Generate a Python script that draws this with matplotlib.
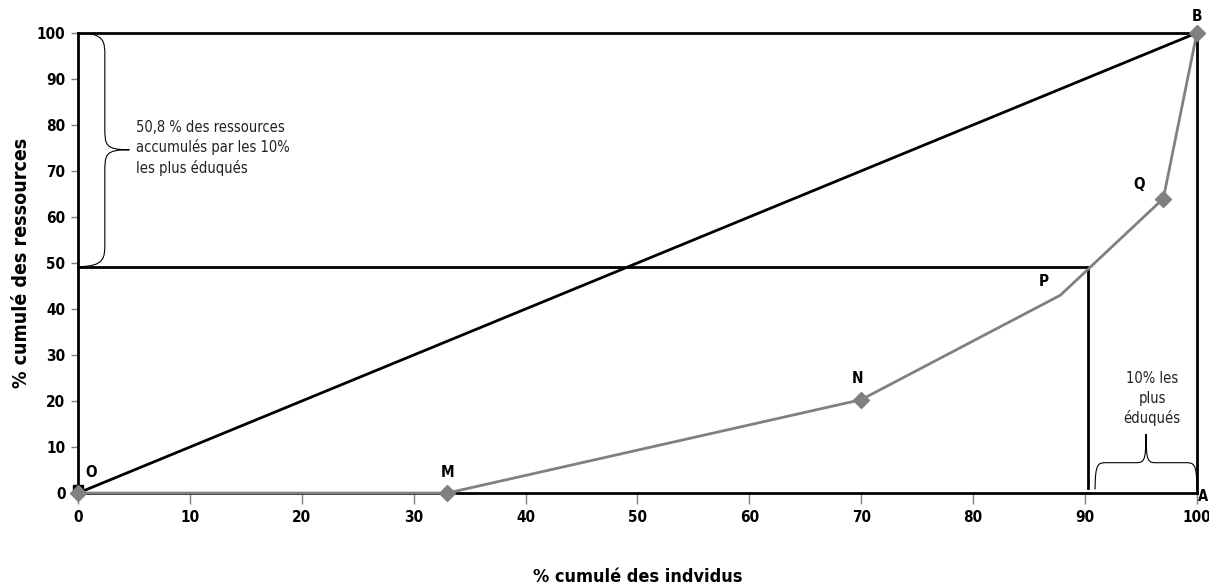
import matplotlib
matplotlib.use("Agg")
import matplotlib.pyplot as plt
from matplotlib.path import Path
from matplotlib.patches import PathPatch

# Data
point_labels = ["O", "M", "N", "P", "Q", "B"]
x_pop = [0, 33, 70, 87.8, 97, 100]
y_res = [0, 0, 20.3, 43.0, 64.0, 100]
marker_mask = [True, True, True, False, True, True]
cut_x = 90.3
cut_y = 49.2
x_ticks = [0, 10, 20, 30, 40, 50, 60, 70, 80, 90, 100]
y_ticks = [0, 10, 20, 30, 40, 50, 60, 70, 80, 90, 100]

plt.rcParams['font.family'] = ['DejaVu Sans']
FONT = dict(family='DejaVu Sans', stretch='condensed')

fig = plt.figure(figsize=(12.09, 5.87), dpi=100)
ax = fig.add_axes([0.0645, 0.160, 0.9255, 0.784])
ax.set_xlim(0, 100)
ax.set_ylim(0, 100)

BLACK = "#000000"
GRAY = "#808080"

# reference square
ax.plot([0, 100], [100, 100], color=BLACK, lw=2, clip_on=False, zorder=2)
ax.plot([100, 100], [0, 100], color=BLACK, lw=2, clip_on=False, zorder=2)
# equality line
ax.plot([0, 100], [0, 100], color=BLACK, lw=2, clip_on=False, zorder=2)
# 10% cut lines
ax.plot([0, cut_x], [cut_y, cut_y], color=BLACK, lw=2, clip_on=False, zorder=2)
ax.plot([cut_x, cut_x], [1.0, cut_y], color=BLACK, lw=2, clip_on=False, zorder=2)

# origin black square
ax.plot([0], [0.6], marker='s', color=BLACK, ms=7, clip_on=False, zorder=3)

# Lorenz curve
ax.plot(x_pop, y_res, color=GRAY, lw=2, clip_on=False, zorder=4)
mx = [x for x, m in zip(x_pop, marker_mask) if m]
my = [y for y, m in zip(y_res, marker_mask) if m]
ax.plot(mx, my, linestyle='none', marker='D', color=GRAY, ms=8, clip_on=False, zorder=5)

# point labels
offsets = {"O": (1.2, 4.5), "M": (0, 4.5), "N": (-0.3, 4.5), "P": (-1.5, 3.0),
           "Q": (-2.2, 3.0), "B": (0, 3.5)}
for lab, x, y in zip(point_labels, x_pop, y_res):
    dx, dy = offsets[lab]
    ax.text(x + dx, y + dy, lab, ha='center', va='center', fontsize=11,
            fontweight='bold', **FONT)
ax.text(100.05, -0.8, "A", ha='left', va='center', fontsize=10.5, fontweight='bold', **FONT)

# left brace
def brace_v(ax, x0, y_top, y_bot, w1, w2):
    ym = (y_top + y_bot) / 2
    verts = [(x0, y_top),
             (x0 + w1, y_top), (x0 + w1, y_top - 2), (x0 + w1, y_top - 5),
             (x0 + w1, ym + 5),
             (x0 + w1, ym + 1), (x0 + w1, ym), (x0 + w2, ym),
             (x0 + w1, ym), (x0 + w1, ym - 1), (x0 + w1, ym - 5),
             (x0 + w1, y_bot + 5),
             (x0 + w1, y_bot + 2), (x0 + w1, y_bot), (x0, y_bot)]
    codes = [Path.MOVETO,
             Path.CURVE4, Path.CURVE4, Path.CURVE4,
             Path.LINETO,
             Path.CURVE4, Path.CURVE4, Path.CURVE4,
             Path.CURVE4, Path.CURVE4, Path.CURVE4,
             Path.LINETO,
             Path.CURVE4, Path.CURVE4, Path.CURVE4]
    ax.add_patch(PathPatch(Path(verts, codes), fill=False, lw=0.8, color=BLACK, zorder=3))

brace_v(ax, 0, 100, cut_y, 2.4, 4.6)
ax.text(5.2, 75, "50,8 % des ressources\naccumulés par les 10%\nles plus éduqués",
        ha='left', va='center', fontsize=10.5, color='#222222', linespacing=1.35, **FONT)

# bottom brace
def brace_h(ax, x_left, x_right, y0, h1, h2):
    xm = (x_left + x_right) / 2
    verts = [(x_left, y0),
             (x_left, y0 + h1), (x_left + 0.3, y0 + h1), (x_left + 1.0, y0 + h1),
             (xm - 1.0, y0 + h1),
             (xm - 0.2, y0 + h1), (xm, y0 + h1), (xm, y0 + h2),
             (xm, y0 + h1), (xm + 0.2, y0 + h1), (xm + 1.0, y0 + h1),
             (x_right - 1.0, y0 + h1),
             (x_right - 0.3, y0 + h1), (x_right, y0 + h1), (x_right, y0)]
    codes = [Path.MOVETO,
             Path.CURVE4, Path.CURVE4, Path.CURVE4,
             Path.LINETO,
             Path.CURVE4, Path.CURVE4, Path.CURVE4,
             Path.CURVE4, Path.CURVE4, Path.CURVE4,
             Path.LINETO,
             Path.CURVE4, Path.CURVE4, Path.CURVE4]
    ax.add_patch(PathPatch(Path(verts, codes), fill=False, lw=0.8, color=BLACK, zorder=3))

brace_h(ax, cut_x + 0.6, 100, 0.8, 5.8, 12.0)
ax.text(96.0, 20.5, "10% les\nplus\néduqués", ha='center', va='center',
        fontsize=10.5, color='#222222', linespacing=1.35, **FONT)

# axes styling
for s in ['top', 'right']:
    ax.spines[s].set_visible(False)
ax.spines['left'].set_linewidth(2)
ax.spines['bottom'].set_linewidth(2)
ax.set_xticks(x_ticks)
ax.set_yticks(y_ticks)
ax.tick_params(axis='x', length=8, width=1, color=GRAY, pad=4)
ax.tick_params(axis='y', length=5, width=1, color=GRAY, pad=4)
for t in ax.get_xticklabels() + ax.get_yticklabels():
    t.set_fontweight('bold')
    t.set_fontsize(11)
    t.set_fontstretch('condensed')
ax.set_xlabel("% cumulé des indvidus", fontsize=13, fontweight='bold', labelpad=31, **FONT)
ax.set_ylabel("% cumulé des ressources", fontsize=14, fontweight='bold', labelpad=4, **FONT)

fig.savefig("out.png", dpi=100)
